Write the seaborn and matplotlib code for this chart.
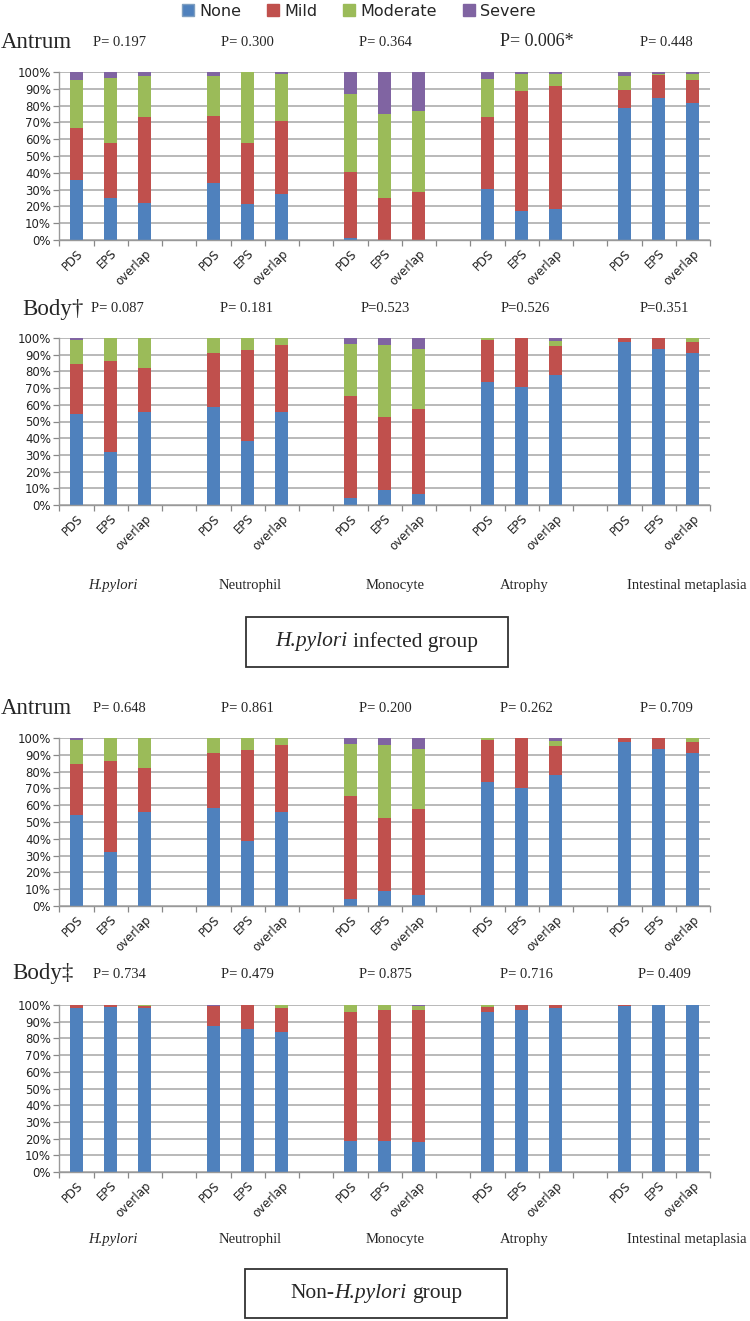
import numpy as np
import pandas as pd
import matplotlib
matplotlib.use("Agg")
import matplotlib.pyplot as plt
import seaborn as sns
from matplotlib.patches import Patch, Rectangle

# ---------------- data ----------------
severity = ["None", "Mild", "Moderate", "Severe"]
colors = ["#4F81BD", "#C0504D", "#9BBB59", "#8064A2"]
findings = ["H.pylori", "Neutrophil", "Monocyte", "Atrophy", "Intestinal metaplasia"]
methods = ["PDS", "EPS", "overlap"]

# H.pylori infected group - Antrum (%), order: finding x method
hp_antrum_none = [35.6, 25.1, 22.2, 34.1, 21.2, 27.1, 1.0, 0.0, 0.0, 30.3, 17.2, 18.4, 78.6, 84.8, 81.6]
hp_antrum_mild = [31.3, 32.7, 50.9, 39.6, 36.8, 44.0, 39.6, 25.1, 28.7, 42.8, 71.7, 73.5, 10.5, 13.6, 13.4]
hp_antrum_mod = [28.5, 38.8, 24.3, 24.1, 42.0, 27.7, 46.1, 49.8, 47.9, 22.5, 9.9, 6.7, 8.7, 0.4, 3.6]
hp_antrum_sev = [4.6, 3.4, 2.6, 2.2, 0.0, 1.2, 13.3, 25.1, 23.4, 4.4, 1.2, 1.4, 2.2, 1.2, 1.4]

# H.pylori infected group - Body
hp_body_none = [54.4, 32.0, 55.8, 58.4, 38.6, 55.8, 4.0, 9.0, 6.6, 73.6, 70.4, 77.8, 97.8, 93.2, 91.2]
hp_body_mild = [30.2, 54.4, 26.2, 32.8, 54.4, 39.8, 61.4, 43.4, 51.0, 25.4, 29.6, 17.6, 2.2, 6.8, 6.4]
hp_body_mod = [14.2, 13.6, 18.0, 8.8, 7.0, 4.4, 31.0, 43.2, 36.0, 1.0, 0.0, 2.6, 0.0, 0.0, 2.4]
hp_body_sev = [1.2, 0.0, 0.0, 0.0, 0.0, 0.0, 3.6, 4.4, 6.4, 0.0, 0.0, 2.0, 0.0, 0.0, 0.0]

# Non-H.pylori group - Antrum
non_antrum_none = [54.4, 32.0, 55.8, 58.4, 38.6, 55.8, 4.0, 9.0, 6.6, 73.6, 70.4, 77.8, 97.8, 93.2, 91.2]
non_antrum_mild = [30.2, 54.4, 26.2, 32.8, 54.4, 39.8, 61.4, 43.4, 51.0, 25.4, 29.6, 17.6, 2.2, 6.8, 6.4]
non_antrum_mod = [14.2, 13.6, 18.0, 8.8, 7.0, 4.4, 31.0, 43.2, 36.0, 1.0, 0.0, 2.6, 0.0, 0.0, 2.4]
non_antrum_sev = [1.2, 0.0, 0.0, 0.0, 0.0, 0.0, 3.6, 4.4, 6.4, 0.0, 0.0, 2.0, 0.0, 0.0, 0.0]

# Non-H.pylori group - Body
non_body_none = [98.4, 99.0, 98.4, 87.6, 85.6, 83.8, 18.6, 18.6, 18.0, 96.0, 97.0, 98.0, 99.4, 100.0, 100.0]
non_body_mild = [1.6, 1.0, 1.0, 12.0, 14.4, 14.6, 77.0, 78.4, 79.0, 3.0, 3.0, 2.0, 0.6, 0.0, 0.0]
non_body_mod = [0.0, 0.0, 0.6, 0.0, 0.0, 1.6, 4.4, 3.0, 2.4, 1.0, 0.0, 0.0, 0.0, 0.0, 0.0]
non_body_sev = [0.0, 0.0, 0.0, 0.4, 0.0, 0.0, 0.0, 0.0, 0.6, 0.0, 0.0, 0.0, 0.0, 0.0, 0.0]

row_titles = ["Antrum", "Body\u2020", "Antrum", "Body\u2021"]
p_values = [
    ["P= 0.197", "P= 0.300", "P= 0.364", "P= 0.006*", "P= 0.448"],
    ["P= 0.087", "P= 0.181", "P=0.523", "P=0.526", "P=0.351"],
    ["P= 0.648", "P= 0.861", "P= 0.200", "P= 0.262", "P= 0.709"],
    ["P= 0.734", "P= 0.479", "P= 0.875", "P= 0.716", "P= 0.409"],
]
ytick_vals = list(range(0, 101, 10))

# ---------------- style ----------------
sns.set_style("white")
plt.rcParams["font.family"] = ["DejaVu Sans"]

W, H = 750, 1321
fig = plt.figure(figsize=(W / 100, H / 100), dpi=100)
fig.patch.set_facecolor("white")

SERIF = "Liberation Serif"
GRID = "#a6a6a6"
NSLOT = len(findings) * 4 - 1


def fx(px):
    return px / W


def fy(py):
    return 1 - py / H


def ftext(xp, yp, s, **kw):
    kw.setdefault("va", "center")
    kw.setdefault("ha", "left")
    return fig.text(fx(xp), fy(yp), s, **kw)


def draw_panel(top, bottom, none, mild, mod, sev):
    left, right = 59.3, 710
    ax = fig.add_axes([fx(left), fy(bottom), (right - left) / W, (bottom - top) / H])
    slots = [(i // 3) * 4 + i % 3 for i in range(len(none))]
    c1 = np.array(none)
    c2 = c1 + np.array(mild)
    c3 = c2 + np.array(mod)
    c4 = c3 + np.array(sev)
    df = pd.DataFrame({"slot": slots, "c1": c1, "c2": c2, "c3": c3, "c4": c4})
    for col, color in zip(["c4", "c3", "c2", "c1"], colors[::-1]):
        sns.barplot(data=df, x="slot", y=col, order=list(range(NSLOT)), color=color,
                    saturation=1, width=0.38, errorbar=None, linewidth=0, ax=ax)
    ax.set_xlabel("")
    ax.set_ylabel("")
    ax.set_ylim(0, 100)
    ax.set_xlim(-0.5, 18.2)
    ax.set_yticks(ytick_vals)
    ax.set_yticklabels([f"{v}%" for v in ytick_vals], fontsize=8.5, color="#222222")
    labels = ["" if s % 4 == 3 else methods[s % 4] for s in range(NSLOT)]
    ax.set_xticks(range(NSLOT))
    ax.set_xticklabels(labels, rotation=45, ha="right", rotation_mode="anchor",
                       fontsize=8.5, color="#222222")
    ax.set_xticks(np.arange(-0.5, NSLOT, 1.0), minor=True)
    ax.tick_params(axis="x", which="major", bottom=True, length=0, pad=5)
    ax.tick_params(axis="x", which="minor", bottom=True, length=4, color="#888888", width=0.9)
    ax.tick_params(axis="y", left=True, length=4, color="#888888", width=0.9, pad=2)
    ax.grid(axis="y", color=GRID, linewidth=1.1)
    ax.grid(axis="x", visible=False)
    ax.set_axisbelow(True)
    for sp in ["top", "right"]:
        ax.spines[sp].set_visible(False)
    for sp in ["left", "bottom"]:
        ax.spines[sp].set_color("#999999")
        ax.spines[sp].set_linewidth(1.0)
    return ax


panels = [
    (72, 240, hp_antrum_none, hp_antrum_mild, hp_antrum_mod, hp_antrum_sev),
    (338, 505, hp_body_none, hp_body_mild, hp_body_mod, hp_body_sev),
    (738, 906, non_antrum_none, non_antrum_mild, non_antrum_mod, non_antrum_sev),
    (1005, 1172, non_body_none, non_body_mild, non_body_mod, non_body_sev),
]
for p in panels:
    draw_panel(*p)

# row titles and p values
title_pos = [(1, 42), (22, 309), (1, 708), (12, 974)]
p_centers = [[119, 247, 385, 537, 666], [117, 246, 385, 525, 664],
             [119, 247, 385, 526, 666], [119, 247, 385, 526, 664]]
for r in range(4):
    tx, ty = title_pos[r]
    ftext(tx, ty, row_titles[r], fontsize=16.5, family=SERIF)
    for k, s in enumerate(p_values[r]):
        size = 13 if s.endswith("*") else 10.5
        ftext(p_centers[r][k], ty, s, ha="center", fontsize=size, family=SERIF)

# finding names below the panels
name_x = [113, 250, 395, 524, 687]
for yrow in (585, 1240):
    for k, name in enumerate(findings):
        ftext(name_x[k], yrow, name, ha="center", fontsize=10.5, family=SERIF,
              style="italic" if k == 0 else "normal")

# group boxes with mixed italic / upright text
renderer = fig.canvas.get_renderer()


def mixed_text(xc, yc, parts, size):
    objs = []
    widths = []
    gap = 0.25 * size * 100 / 72
    for txt, sty in parts:
        t = ftext(0, yc, txt, fontsize=size, family=SERIF, style=sty, ha="left")
        objs.append(t)
        widths.append(t.get_window_extent(renderer).width)
    gaps = [gap if parts[i][0].endswith(" ") is False and i < len(parts) - 1 and
            not parts[i + 1][0].startswith("-") and not parts[i][0].endswith("-") else 0
            for i in range(len(parts))]
    total = sum(widths) + sum(gaps[:-1])
    x = xc - total / 2
    for t, w, g in zip(objs, widths, gaps):
        t.set_x(fx(x))
        x += w + g


for (x0, y0, x1, y1, parts) in [
    (246, 617, 508, 667, [("H.pylori", "italic"), ("infected group", "normal")]),
    (245, 1269, 507, 1318, [("Non-", "normal"), ("H.pylori", "italic"), ("group", "normal")]),
]:
    fig.patches.append(Rectangle((fx(x0), fy(y1)), (x1 - x0) / W, (y1 - y0) / H,
                                 transform=fig.transFigure, fill=False,
                                 edgecolor="#333333", linewidth=1.3))
    mixed_text((x0 + x1) / 2, (y0 + y1) / 2, parts, 15.5)

# legend
handles = [Patch(facecolor=c, edgecolor="#7f9fc0" if i == 0 else c, label=l)
           for i, (c, l) in enumerate(zip(colors, severity))]
fig.legend(handles=handles, loc="center", bbox_to_anchor=(fx(359), fy(11)), ncol=4,
           frameon=False, fontsize=11.5, handlelength=0.75, handleheight=0.75,
           handletextpad=0.35, columnspacing=1.6, borderaxespad=0)

fig.savefig("out.png", dpi=100, facecolor="white")
